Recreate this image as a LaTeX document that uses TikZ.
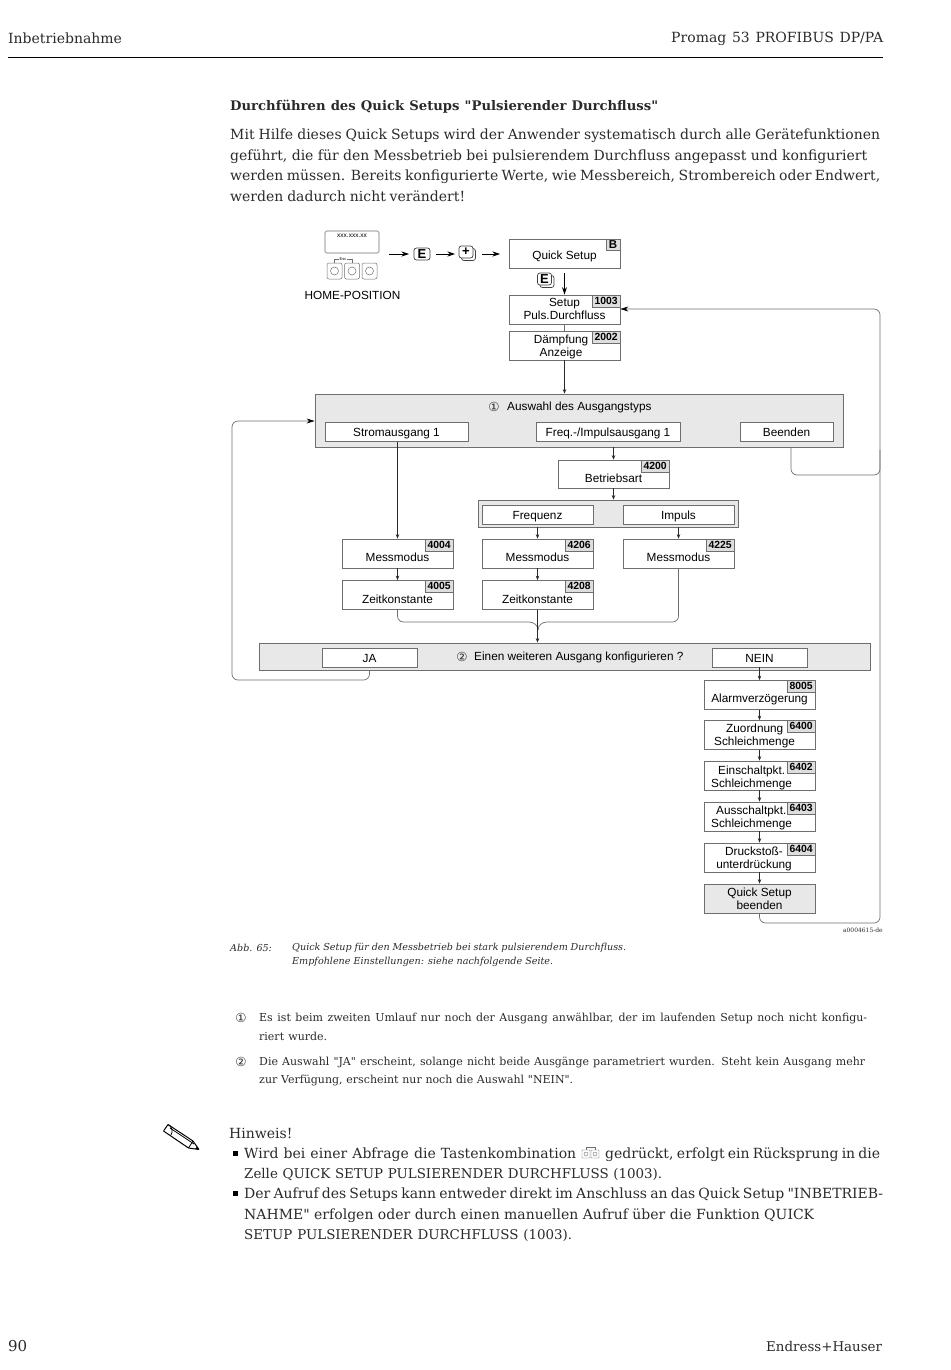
\documentclass[tikz,border=0pt]{standalone}
\usepackage{fontspec}
\newfontfamily\bodyfont{DejaVu Serif}
\newfontfamily\diafont{Liberation Sans}
\newfontfamily\symfont{DejaVu Sans}
\usetikzlibrary{arrows.meta,shadows}
\definecolor{boxline}{HTML}{6E6E6E}
\definecolor{panelgray}{HTML}{E8E8E8}
\definecolor{taggray}{HTML}{DEDEDE}
\definecolor{inkgray}{HTML}{2A2A2A}
\newcommand{\Fit}[2]{\makebox[#1pt][s]{#2}}
\tikzset{
  body/.style={anchor=west,inner sep=0pt,yshift=-1.5pt,text=inkgray,font=\bodyfont\fontsize{14}{16}\selectfont},
  capsline/.style={body,font=\bodyfont\fontsize{13.4}{16}\selectfont},
  note/.style={anchor=west,inner sep=0pt,yshift=-1.5pt,text=inkgray,font=\bodyfont\fontsize{11}{13}\selectfont},
  capt/.style={anchor=west,inner sep=0pt,yshift=-1pt,text=inkgray,font=\bodyfont\fontsize{9.6}{12}\selectfont\itshape},
  circnum/.style={inner sep=0pt,text=inkgray,font=\symfont\fontsize{12.5}{13}\selectfont},
  box/.style={draw=boxline,fill=white,line width=0.7pt,inner sep=0pt,minimum width=111pt,minimum height=29pt},
  optbox/.style={box,font=\diafont\fontsize{11.8}{14}\selectfont,minimum height=19pt,text height=12pt,text depth=2.5pt},
  panel/.style={draw=boxline,fill=panelgray,line width=0.8pt,inner sep=0pt},
  tag/.style={draw=boxline,fill=taggray,line width=0.5pt,anchor=north east,inner sep=0pt,minimum height=12pt,minimum width=28pt,font=\diafont\bfseries\fontsize{10.4}{11}\selectfont},
  dia/.style={inner sep=0pt,font=\diafont\fontsize{11.8}{13}\selectfont,align=center},
  key/.style={draw=black!75,fill=white,rounded corners=2.5pt,line width=0.7pt,inner sep=0pt,minimum width=16pt,minimum height=12pt,font=\diafont\bfseries\fontsize{13}{13}\selectfont},
  keyshadow/.style={key,minimum width=14pt,copy shadow={shadow xshift=2.5pt,shadow yshift=-2.5pt,draw=black!75,fill=white}},
  btn/.style={draw=boxline,rounded corners=2pt,line width=0.5pt,minimum width=15pt,minimum height=16pt,inner sep=0pt},
  ring/.style={draw=boxline,circle,line width=0.5pt,minimum size=8pt,inner sep=0pt},
  flow/.style={-{Stealth[length=4.5pt,width=3.5pt]},line width=0.55pt,draw=inkgray},
  bigflow/.style={-{Stealth[length=7.5pt,width=5pt]},line width=0.8pt,draw=black},
  back/.style={draw=boxline,line width=0.7pt,rounded corners=6pt},
}
\begin{document}
\begin{tikzpicture}[x=1pt,y=-1pt]
\useasboundingbox (0,0) rectangle (950,1370);
% page head
\node (head) [body] at (8,37) {\Fit{116}{Inbetriebnahme}};
\node (prod) [body] at (671,37) {\Fit{212}{Promag 53 PROFIBUS DP/PA}};
\coordinate (ruleL) at (8,57);
\coordinate (ruleR) at (883,57);
\draw[line width=0.9pt] (ruleL) -- (ruleR);
\node (title) [body,font=\bodyfont\fontsize{13.2}{16}\selectfont\bfseries] at (230,105) {\Fit{428}{Durchführen des Quick Setups "Pulsierender Durchfluss"}};
\node (par1) [body] at (230,134) {\Fit{650}{Mit Hilfe dieses Quick Setups wird der Anwender systematisch durch alle Gerätefunktionen}};
\node (par2) [body] at (230,155) {\Fit{637}{geführt, die für den Messbetrieb bei pulsierendem Durchfluss angepasst und konfiguriert}};
\node (par3) [body] at (230,175) {\Fit{650}{werden müssen. Bereits konfigurierte Werte, wie Messbereich, Strombereich oder Endwert,}};
\node (par4) [body] at (230,195) {\Fit{235}{werden dadurch nicht verändert!}};
% home position
\node (disp) [draw=boxline,rounded corners=1.5pt,line width=0.6pt,minimum width=54pt,minimum height=22pt,inner sep=0pt] at (352,242) {};
\node (dispt) [inner sep=0pt,font=\diafont\fontsize{6.5}{7}\selectfont] at (352,236) {xxx.xxx.xx};
\node (btnA) [btn] at (334.5,271) {};
\node (btnB) [btn] at (352,271) {};
\node (btnC) [btn] at (369.5,271) {};
\node (ringA) [ring] at (334.5,271) {};
\node (ringB) [ring] at (352,271) {};
\node (ringC) [ring] at (369.5,271) {};
\node (esc) [inner sep=0pt,font=\diafont\fontsize{4}{4}\selectfont] at (343,259) {Esc};
\draw[draw=boxline,line width=0.4pt] (btnA.north) |- (esc.west);
\draw[draw=boxline,line width=0.4pt] (btnB.north) |- (esc.east);
\node (home) [dia] at (352.5,295) {HOME-POSITION};
\coordinate (homeout) at (389,254);
\node (keyE) [key] at (422,254) {E};
\node (keyP) [keyshadow] at (466,252) {+};
\node (qs) [box] at (564.5,253.5) {};
\node (qst) [dia] at (564.5,256) {Quick Setup};
\node (qsb) [tag,minimum width=14pt,minimum height=11pt,font=\diafont\bfseries\fontsize{11.5}{11}\selectfont] at (qs.north east) {B};
\coordinate (keyEin) at (409,254);
\coordinate (keyEout) at (436,254);
\coordinate (keyPin) at (455,254);
\coordinate (keyPout) at (482,254);
\coordinate (qsin) at (500,254);
\draw[bigflow] (homeout) -- (keyEin);
\draw[bigflow] (keyEout) -- (keyPin);
\draw[bigflow] (keyPout) -- (qsin);
\node (keyF) [keyshadow] at (544.5,279) {E};
\node (s1003) [box] at (564.5,309.5) {};
\node (s1003t) [dia] at (564.5,308.5) {Setup\\Puls.Durchfluss};
\node (n1003) [tag] at (s1003.north east) {1003};
\node (s2002) [box] at (564.5,345.5) {};
\node (s2002t) [dia] at (561,347) {Dämpfung\\Anzeige};
\node (n2002) [tag] at (s2002.north east) {2002};
\coordinate (qsout) at (564.5,273);
\draw[bigflow] (qsout) -- (s1003.north);
\draw[line width=0.55pt,draw=boxline] (s1003) -- (s2002);
% output type
\node (pan1) [panel,minimum width=528pt,minimum height=53pt] at (579,420.5) {};
\node (pan1c) [circnum] at (494,406.5) {①};
\node (pan1t) [dia,anchor=west] at (507,407.5) {Auswahl des Ausgangstyps};
\node (strom) [optbox,minimum width=143pt] at (396.5,432) {Stromausgang 1};
\node (freq) [optbox,minimum width=144pt] at (608,432) {Freq.-/Impulsausgang 1};
\node (been) [optbox,minimum width=93pt] at (786.5,432) {Beenden};
\draw[flow] (s2002.south) -- (s2002.south |- pan1.north);
\node (s4200) [box,minimum height=28pt] at (613.5,474) {};
\node (s4200t) [dia] at (613.5,478) {Betriebsart};
\node (n4200) [tag] at (s4200.north east) {4200};
\draw[flow] (s4200.north |- pan1.south) -- (s4200.north);
\node (pan3) [panel,minimum width=260pt,minimum height=27pt] at (608,513.5) {};
\node (frq) [optbox,minimum width=111pt] at (537.5,514.5) {Frequenz};
\node (imp) [optbox,minimum width=111pt] at (678.5,514.5) {Impuls};
\draw[flow] (s4200.south) -- (s4200.south |- pan3.north);
% Messmodus / Zeitkonstante
\node (s4004) [box] at (397.5,553.5) {};
\node (s4004t) [dia] at (397.5,557.5) {Messmodus};
\node (n4004) [tag] at (s4004.north east) {4004};
\node (s4206) [box] at (537.5,553.5) {};
\node (s4206t) [dia] at (537.5,557.5) {Messmodus};
\node (n4206) [tag] at (s4206.north east) {4206};
\node (s4225) [box] at (678.5,553.5) {};
\node (s4225t) [dia] at (678.5,557.5) {Messmodus};
\node (n4225) [tag] at (s4225.north east) {4225};
\node (s4005) [box] at (397.5,595) {};
\node (s4005t) [dia] at (397.5,599) {Zeitkonstante};
\node (n4005) [tag] at (s4005.north east) {4005};
\node (s4208) [box] at (537.5,595) {};
\node (s4208t) [dia] at (537.5,599) {Zeitkonstante};
\node (n4208) [tag] at (s4208.north east) {4208};
\draw[flow] (strom.south -| s4004.north) -- (s4004.north);
\draw[flow] (frq.south |- pan3.south) -- (s4206.north);
\draw[flow] (imp.south |- pan3.south) -- (s4225.north);
\draw[flow] (s4004) -- (s4005);
\draw[flow] (s4206) -- (s4208);
% second question
\node (pan2) [panel,minimum width=611pt,minimum height=27pt] at (564.5,656.5) {};
\node (pan2c) [circnum] at (462,656.5) {②};
\node (pan2t) [dia,anchor=west] at (474,657.5) {Einen weiteren Ausgang konfigurieren ?};
\node (ja) [optbox,minimum width=95pt] at (369.5,657.5) {JA};
\node (nein) [optbox,minimum width=95pt] at (759.5,657.5) {NEIN};
\coordinate (mrg) at (538,630);
\coordinate (mrgL) at (529,622);
\coordinate (mrgR) at (547,622);
\draw[back] (s4005.south) |- (mrgL);
\draw[line width=0.7pt,draw=boxline] (mrgL) to[out=0,in=90] (mrg);
\draw[back] (s4225.south) |- (mrgR);
\draw[line width=0.7pt,draw=boxline] (mrgR) to[out=180,in=90] (mrg);
\draw[flow] (s4208.south) -- (s4208.south |- pan2.north);
% closing chain
\node (s8005) [box] at (759.5,695) {};
\node (s8005t) [dia] at (759.5,699.5) {Alarmverzögerung};
\node (n8005) [tag] at (s8005.north east) {8005};
\node (s6400) [box] at (759.5,735) {};
\node (s6400t) [dia,align=left,anchor=west] at (714,736) {\hspace*{12pt}Zuordnung\\Schleichmenge};
\node (n6400) [tag] at (s6400.north east) {6400};
\node (s6402) [box] at (759.5,775.5) {};
\node (s6402t) [dia,align=left,anchor=west] at (711,778) {\hspace*{7pt}Einschaltpkt.\\Schleichmenge};
\node (n6402) [tag] at (s6402.north east) {6402};
\node (s6403) [box] at (759.5,816.5) {};
\node (s6403t) [dia,align=left,anchor=west] at (711,818) {\hspace*{5pt}Ausschaltpkt.\\Schleichmenge};
\node (n6403) [tag] at (s6403.north east) {6403};
\node (s6404) [box] at (759.5,857.5) {};
\node (s6404t) [dia] at (754,859) {Druckstoß-\\unterdrückung};
\node (n6404) [tag] at (s6404.north east) {6404};
\node (qsend) [box,fill=panelgray] at (759.5,898.5) {};
\node (qsendt) [dia] at (759.5,899) {Quick Setup\\beenden};
\draw[flow] (nein.south -| s8005.north) -- (s8005.north);
\draw[flow] (s8005) -- (s6400);
\draw[flow] (s6400) -- (s6402);
\draw[flow] (s6402) -- (s6403);
\draw[flow] (s6403) -- (s6404);
\draw[flow] (s6404) -- (qsend);
% return lines
\coordinate (rc) at (880,475);
\coordinate (rcu) at (880,450);
\coordinate (rt) at (880,309);
\coordinate (rb) at (880,923);
\coordinate (lb) at (232,680);
\coordinate (lt) at (232,421);
\coordinate (beout) at (791,447);
\draw[back] (qsend.south) |- (rb) -- (rc);
\draw[back] (beout) |- (rc) -- (rcu);
\draw[back,-{Stealth[length=8pt,width=5pt,black]}] (rc) -- (rt) -- (s1003.east |- rt);
\draw[back,-{Stealth[length=8pt,width=5pt,black]}] (ja.south |- pan2.south) |- (lb) -- (lt) -- (pan1.west |- lt);
\node (code) [inner sep=0pt,anchor=east,text=inkgray,font=\bodyfont\fontsize{6}{6}\selectfont] at (883,930.5) {a0004615-de};
% caption and notes
\node (abb) [capt] at (230,947) {Abb. 65:};
\node (cap1) [capt] at (292,947) {\Fit{334}{Quick Setup für den Messbetrieb bei stark pulsierendem Durchfluss.}};
\node (cap2) [capt] at (292,961) {\Fit{261}{Empfohlene Einstellungen: siehe nachfolgende Seite.}};
\node (mark1) [circnum] at (241,1017.5) {①};
\node (not1) [note] at (259,1017) {\Fit{608}{Es ist beim zweiten Umlauf nur noch der Ausgang anwählbar, der im laufenden Setup noch nicht konfigu-}};
\node (not2) [note] at (259,1035) {\Fit{68}{riert wurde.}};
\node (mark2) [circnum] at (241,1061.5) {②};
\node (not3) [note] at (259,1061) {\Fit{606}{Die Auswahl "JA" erscheint, solange nicht beide Ausgänge parametriert wurden. Steht kein Ausgang mehr}};
\node (not4) [note] at (259,1079) {\Fit{314}{zur Verfügung, erscheint nur noch die Auswahl "NEIN".}};
% hint
\draw[line width=1pt,fill=white,rounded corners=0.5pt] (163.5,1131) -- (168,1124.5) -- (193,1141) -- (199,1149.5) -- (188.5,1148) -- cycle;
\draw[line width=0.8pt] (168,1124.5) to[bend left=50] (171,1135);
\draw[line width=0.8pt] (170,1128) -- (194,1144);
\draw[line width=0.8pt] (193,1141) -- (188.5,1148);
\fill (199,1149.5) -- (195,1148.9) -- (197,1146.5) -- cycle;
\node (hin) [body] at (229,1132) {\Fit{63}{Hinweis!}};
\node (bul1) [fill=black,minimum size=5pt,inner sep=0pt] at (235,1153) {};
\node (hin1) [body] at (244,1153) {\Fit{332}{Wird bei einer Abfrage die Tastenkombination}};
\node (icoA) [btn,minimum width=8pt,minimum height=8pt,line width=0.4pt,rounded corners=0.5pt] at (586,1154) {};
\node (icoB) [btn,minimum width=8pt,minimum height=8pt,line width=0.4pt,rounded corners=0.5pt] at (595,1154) {};
\node (icoC) [ring,minimum size=4pt,line width=0.4pt] at (586,1154) {};
\node (icoD) [ring,minimum size=4pt,line width=0.4pt] at (595,1154) {};
\draw[draw=boxline,line width=0.4pt] (icoA.north) |- ++(4.5,-2.5) -| (icoB.north);
\node (hin2) [body] at (605,1153) {\Fit{275}{gedrückt, erfolgt ein Rücksprung in die}};
\node (hin3) [capsline] at (244,1173) {\Fit{418}{Zelle QUICK SETUP PULSIERENDER DURCHFLUSS (1003).}};
\node (bul2) [fill=black,minimum size=5pt,inner sep=0pt] at (235,1193) {};
\node (hin4) [body] at (244,1193) {\Fit{639}{Der Aufruf des Setups kann entweder direkt im Anschluss an das Quick Setup "INBETRIEB-}};
\node (hin5) [body] at (244,1214) {\Fit{570}{NAHME" erfolgen oder durch einen manuellen Aufruf über die Funktion QUICK}};
\node (hin6) [capsline] at (244,1234) {\Fit{328}{SETUP PULSIERENDER DURCHFLUSS (1003).}};
% page foot
\node (pno) [body,font=\bodyfont\fontsize{15}{16}\selectfont] at (8,1345) {\Fit{20}{90}};
\node (firm) [capsline] at (766,1345) {\Fit{117}{Endress+Hauser}};
\end{tikzpicture}
\end{document}
